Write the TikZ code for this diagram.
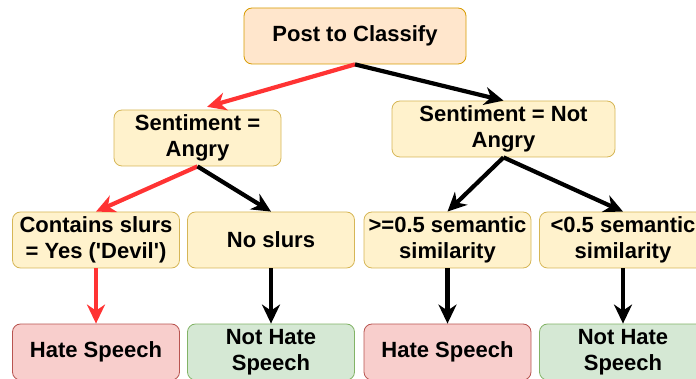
\documentclass[tikz,border=0pt]{standalone}
\usepackage{fontspec}
\setmainfont{Liberation Sans}
\usetikzlibrary{arrows.meta}
\definecolor{postfill}{HTML}{FFE6CC}
\definecolor{postline}{HTML}{D79B00}
\definecolor{stepfill}{HTML}{FFF2CC}
\definecolor{stepline}{HTML}{D6B656}
\definecolor{hatefill}{HTML}{F8CECC}
\definecolor{hateline}{HTML}{B85450}
\definecolor{okfill}{HTML}{D5E8D4}
\definecolor{okline}{HTML}{82B366}
\definecolor{hotred}{HTML}{FF3333}
\tikzset{
  box/.style={rounded corners=8pt, line width=0.8pt, minimum width=167,
    minimum height=56, align=center, inner sep=2pt,
    font=\bfseries\fontsize{22}{26}\selectfont},
  test/.style={box, fill=stepfill, draw=stepline},
  hate/.style={box, fill=hatefill, draw=hateline},
  nothate/.style={box, fill=okfill, draw=okline},
}
\begin{document}
\begin{tikzpicture}[x=1pt,y=-1pt]
  \clip (0,0) rectangle (696,379);
  \draw
    (355,36) node[box, fill=postfill, draw=postline, minimum width=222] (post){Post to Classify}
    (197.5,138) node[test] (angry){Sentiment =\\Angry}
    (503.5,129) node[test, minimum width=223] (notangry){Sentiment = Not\\Angry}
    (96,240) node[test] (slurs){Contains slurs\\= Yes (\textquotesingle Devil\textquotesingle)}
    (271,240) node[test] (noslurs){No slurs}
    (447.5,240) node[test] (high){>=0.5 semantic\\similarity}
    (623,240) node[test] (low){<0.5 semantic\\similarity}
    (96,352) node[hate] (hate1){Hate Speech}
    (271,352) node[nothate] (ok1){Not Hate\\Speech}
    (447.5,352) node[hate] (hate2){Hate Speech}
    (623,352) node[nothate] (ok2){Not Hate\\Speech};
  \begin{scope}[line width=4.2pt, -{Stealth[length=19pt, width=18pt, inset=6pt]}]
    \draw[hotred, shorten >=10pt] (post.south) to (angry.north);
    \draw (post.south) to (notangry.north);
    \draw[hotred] (angry.south) to (slurs.north);
    \draw (angry.south) to (noslurs.north);
    \draw (notangry.south) to (high.north);
    \draw (notangry.south) to (low.north);
    \draw[hotred] (slurs.south) to (hate1.north);
    \draw (noslurs.south) to (ok1.north);
    \draw (high.south) to (hate2.north);
    \draw (low.south) to (ok2.north);
  \end{scope}
\end{tikzpicture}
\end{document}
